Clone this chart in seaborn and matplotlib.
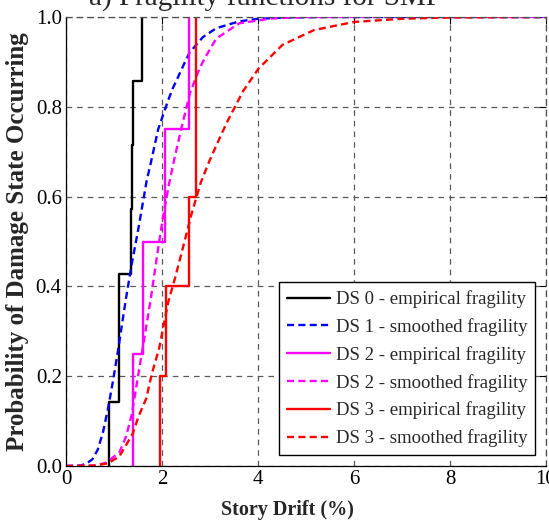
import numpy as np
import pandas as pd
import matplotlib
matplotlib.use("Agg")
import matplotlib.pyplot as plt
import seaborn as sns

# ---------------- data ----------------
# empirical samples (story drift %, each step = 1/n)
ds0_emp = [0.89, 1.10, 1.10, 1.35, 1.37, 1.39, 1.58]
ds2_emp = [1.39, 1.60, 2.07, 2.56]
ds3_emp = [1.96, 2.08, 2.57, 2.71, 2.71]

# smoothed fragility curves
ds1_x = [0, 0.30, 0.42, 0.55, 0.66, 0.77, 0.87, 0.98, 1.08, 1.18, 1.26, 1.37, 1.51,
         1.68, 1.75, 1.92, 2.13, 2.22, 2.48, 2.57, 2.85, 3.13, 3.60, 4.00, 4.60, 5.50, 10]
ds1_y = [0, 0.001, 0.005, 0.015, 0.036, 0.075, 0.125, 0.19, 0.255, 0.325, 0.38, 0.45, 0.53,
         0.635, 0.667, 0.75, 0.815, 0.84, 0.90, 0.92, 0.955, 0.975, 0.99, 0.996, 0.999, 1.0, 1.0]

ds2_x = [0, 0.60, 0.83, 1.11, 1.25, 1.37, 1.51, 1.65, 1.77, 1.92, 2.03, 2.15, 2.27, 2.41,
         2.58, 2.78, 2.90, 3.13, 3.61, 4.30, 5.0, 10]
ds2_y = [0, 0.001, 0.007, 0.03, 0.065, 0.115, 0.206, 0.296, 0.375, 0.485, 0.56, 0.63, 0.69,
         0.755, 0.83, 0.885, 0.91, 0.952, 0.986, 0.997, 1.0, 1.0]

ds3_x = [0, 0.60, 0.87, 1.11, 1.39, 1.51, 1.67, 1.79, 1.94, 2.13, 2.27, 2.44, 2.62, 2.81,
         2.99, 3.20, 3.35, 3.69, 4.01, 4.51, 5.17, 6.0, 7.0, 8.0, 10]
ds3_y = [0, 0.001, 0.006, 0.021, 0.072, 0.11, 0.15, 0.206, 0.262, 0.365, 0.418, 0.488, 0.563,
         0.632, 0.68, 0.73, 0.765, 0.835, 0.885, 0.938, 0.971, 0.989, 0.996, 0.999, 1.0]

labels = ["DS 0 - empirical fragility", "DS 1 - smoothed fragility",
          "DS 2 - empirical fragility", "DS 2 - smoothed fragility",
          "DS 3 - empirical fragility", "DS 3 - smoothed fragility"]
x_ticks = [0, 2, 4, 6, 8, 10]
y_ticks = [0.0, 0.2, 0.4, 0.6, 0.8, 1.0]

# ---------------- style ----------------
sns.set_style("white")
plt.rcParams["font.family"] = ["Liberation Serif", "DejaVu Serif"]

W, H = 549, 525
fig = plt.figure(figsize=(W / 100, H / 100), dpi=100)
ax = fig.add_axes([66 / W, 1 - 466 / H, 480 / W, 449 / H])

lw = 1.7
dash = (0, (3.0, 1.8))

sns.ecdfplot(x=ds0_emp, ax=ax, color="black", linewidth=lw, label=labels[0])
sns.lineplot(x=ds1_x, y=ds1_y, ax=ax, color="blue", linewidth=lw, linestyle=dash,
             label=labels[1])
sns.ecdfplot(x=ds2_emp, ax=ax, color="magenta", linewidth=lw, label=labels[2])
sns.lineplot(x=ds2_x, y=ds2_y, ax=ax, color="magenta", linewidth=lw, linestyle=dash,
             label=labels[3])
sns.ecdfplot(x=ds3_emp, ax=ax, color="red", linewidth=lw, label=labels[4])
sns.lineplot(x=ds3_x, y=ds3_y, ax=ax, color="red", linewidth=lw, linestyle=dash,
             label=labels[5])

ax.set_xlim(0, 10)
ax.set_ylim(0, 1.0)
ax.set_xticks(x_ticks)
ax.set_xticklabels([str(t) for t in x_ticks])
ax.set_yticks(y_ticks)
ax.set_yticklabels([f"{t:.1f}" for t in y_ticks])
ax.tick_params(direction="in", length=5, width=0.8, top=True, right=True,
               labelsize=15, pad=3, color="black", labelcolor="black")

ax.grid(True, linestyle=(0, (4.5, 4)), color="0.35", linewidth=0.9)
ax.set_axisbelow(True)

for s in ["left", "bottom"]:
    ax.spines[s].set_color("black")
    ax.spines[s].set_linewidth(0.9)
for s in ["top", "right"]:
    ax.spines[s].set_color("0.3")
    ax.spines[s].set_linewidth(0.9)
    ax.spines[s].set_linestyle((0, (4.5, 4)))

ax.set_xlabel("Story Drift (%)", fontsize=14.5, fontweight="bold")
ax.set_ylabel("Probability of Damage State Occurring", fontsize=18, fontweight="bold")
ax.xaxis.set_label_coords((287 - 66) / 480, -(500 - 466) / 449)
ax.yaxis.set_label_coords(-(66 - 29) / 480, 0.5)

leg = ax.legend(loc="lower right", bbox_to_anchor=((535 - 66) / 480, (466 - 455) / 449),
                borderaxespad=0, fontsize=13.5, frameon=True, fancybox=False,
                edgecolor="black", framealpha=1, handlelength=2.25, handletextpad=0.32,
                labelspacing=0.53, borderpad=0.42)
leg.get_frame().set_linewidth(1.0)

fig.text(265 / W, 1 - 6 / H, "a) Fragility functions for SMF", ha="center",
         va="baseline", fontsize=21)

fig.savefig("out.png", dpi=100)
